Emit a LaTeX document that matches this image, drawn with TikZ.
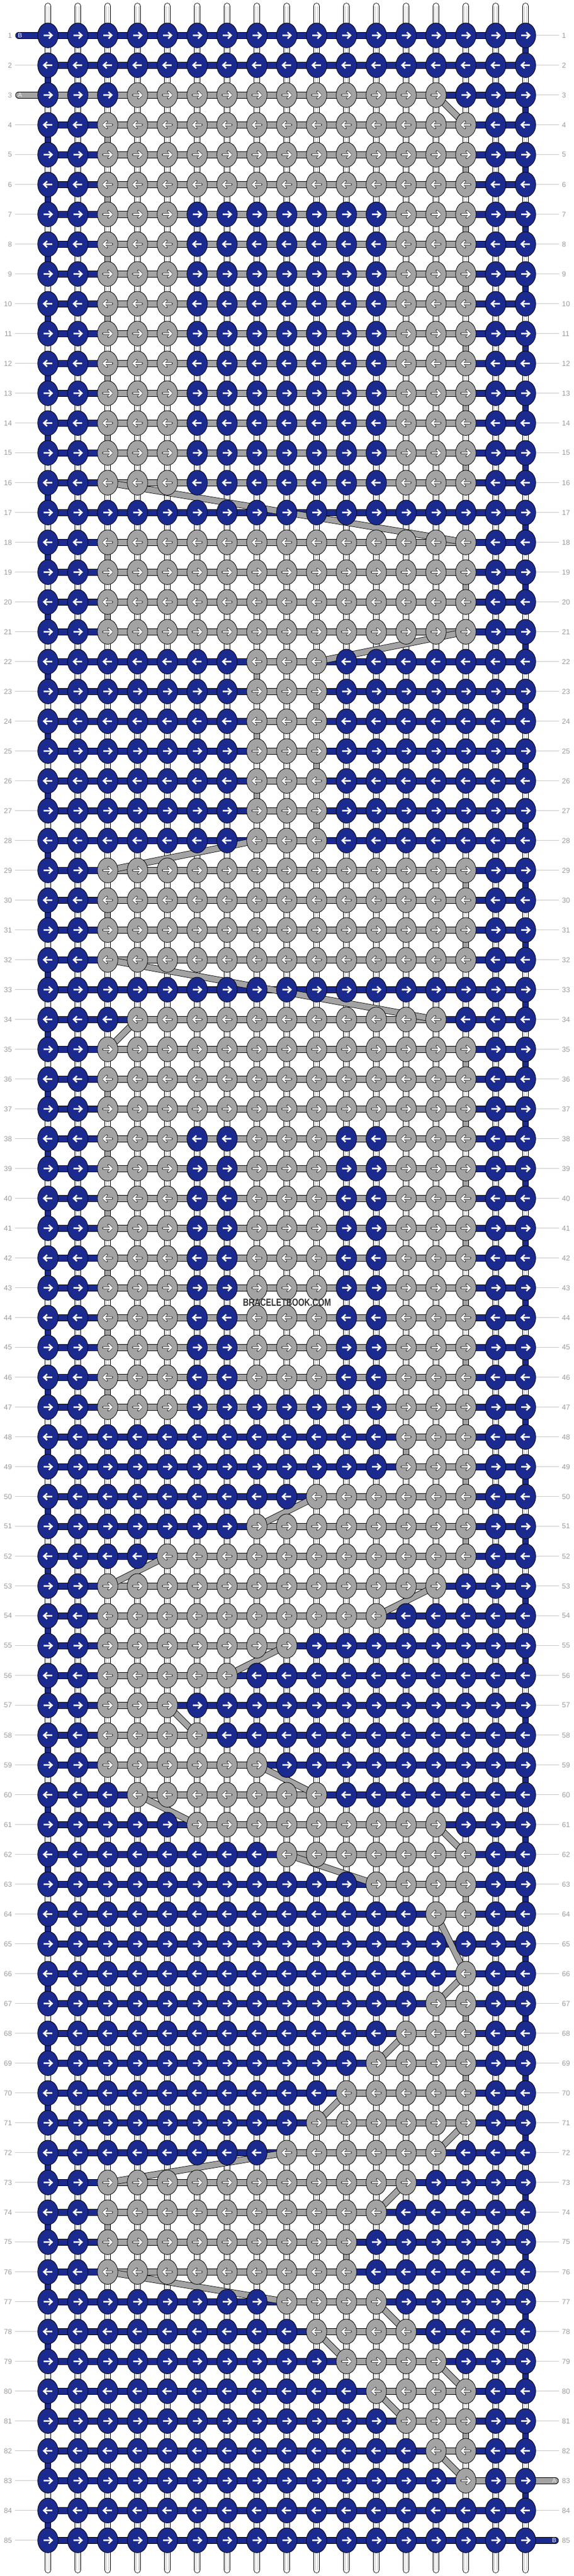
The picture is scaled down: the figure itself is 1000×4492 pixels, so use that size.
\documentclass[tikz,border=0pt]{standalone}
\usepackage{fontspec}
\setmainfont{Liberation Sans}
\usepackage{graphicx}
\usetikzlibrary{shapes.geometric}
\definecolor{bb}{RGB}{27,42,143}
\definecolor{gg}{RGB}{163,163,163}
\definecolor{labc}{RGB}{155,155,155}
\definecolor{labl}{RGB}{200,200,200}
\tikzset{
 stick/.style={draw=black,line width=0.8pt,double=white,double distance=9.4pt,line cap=round},
 stickin/.style={draw=black!22,line width=0.6pt},
 bbar/.style={draw=black,line width=0.8pt,double=bb,double distance=10.4pt,line cap=round},
 bvert/.style={draw=black,line width=0.8pt,double=bb,double distance=9.4pt,line cap=round},
 abar/.style={draw=black,line width=0.8pt,double=gg,double distance=10.4pt,line cap=round},
 aband/.style={draw=black,line width=0.8pt,double=gg,double distance=9.8pt,line cap=round},
 knot/.style={ellipse,minimum width=35.6pt,minimum height=43.4pt,inner sep=0pt,draw=black,line width=0.8pt},
 rowlab/.style={text=labc,font=\fontsize{12.5}{14}\selectfont,inner sep=0pt},
 rowline/.style={draw=labl,line width=0.9pt},
 taillab/.style={font=\fontsize{10.8}{12}\selectfont,inner sep=0pt},
 barr/.pic={\draw[white,line width=2.6pt,line join=miter] (-7.5,0) -- (6.5,0) (1.5,-5.5) -- (7.2,0) -- (1.5,5.5);},
 garr/.pic={\draw[black!70,line width=4.2pt,line cap=round,line join=round] (-7.5,0) -- (6.5,0) (1.5,-5.5) -- (7.2,0) -- (1.5,5.5);
            \draw[white,line width=2.4pt,line join=miter] (-7.5,0) -- (6.5,0) (1.5,-5.5) -- (7.2,0) -- (1.5,5.5);}
}
\newcommand\drawknot[3]{%
  \ifnum#3=1\relax
    \node[knot,fill=gg] (k-#1-#2) at (p-#1-#2) {};
    \ifodd#1\relax \pic at (p-#1-#2) {garr};\else \pic[xscale=-1] at (p-#1-#2) {garr};\fi
  \else
    \node[knot,fill=bb] (k-#1-#2) at (p-#1-#2) {};
    \ifodd#1\relax \pic at (p-#1-#2) {barr};\else \pic[xscale=-1] at (p-#1-#2) {barr};\fi
  \fi}
\def\rowlist{%
1/0/0/0/0/0/0,2/0/0/0/0/0/0,3/4/14/0/0/0/0,4/3/15/0/0/0/0,5/3/15/0/0/0/0,6/3/15/0/0/0/0,%
7/3/5/13/15/0/0,8/3/5/13/15/0/0,9/3/5/13/15/0/0,10/3/5/13/15/0/0,11/3/5/13/15/0/0,%
12/3/5/13/15/0/0,13/3/5/13/15/0/0,14/3/5/13/15/0/0,15/3/5/13/15/0/0,16/3/5/13/15/0/0,%
17/0/0/0/0/0/0,18/3/15/0/0/0/0,19/3/15/0/0/0/0,20/3/15/0/0/0/0,21/3/15/0/0/0/0,%
22/8/10/0/0/0/0,23/8/10/0/0/0/0,24/8/10/0/0/0/0,25/8/10/0/0/0/0,26/8/10/0/0/0/0,27/8/10/0/0/0/0,28/8/10/0/0/0/0,%
29/3/15/0/0/0/0,30/3/15/0/0/0/0,31/3/15/0/0/0/0,32/3/15/0/0/0/0,33/0/0/0/0/0/0,34/4/14/0/0/0/0,%
35/3/15/0/0/0/0,36/3/15/0/0/0/0,37/3/15/0/0/0/0,%
38/3/5/8/10/13/15,39/3/5/8/10/13/15,40/3/5/8/10/13/15,41/3/5/8/10/13/15,42/3/5/8/10/13/15,%
43/3/5/8/10/13/15,44/3/5/8/10/13/15,45/3/5/8/10/13/15,46/3/5/8/10/13/15,47/3/5/13/15/0/0,%
48/13/15/0/0/0/0,49/13/15/0/0/0/0,50/10/15/0/0/0/0,51/8/15/0/0/0/0,52/5/15/0/0/0/0,53/3/14/0/0/0/0,%
54/3/12/0/0/0/0,55/3/9/0/0/0/0,56/3/7/0/0/0/0,57/3/5/0/0/0/0,58/3/6/0/0/0/0,59/3/8/0/0/0/0,%
60/4/10/0/0/0/0,61/6/14/0/0/0/0,62/9/15/0/0/0/0,63/12/15/0/0/0/0,64/14/15/0/0/0/0,65/0/0/0/0/0/0,%
66/15/15/0/0/0/0,67/14/15/0/0/0/0,68/13/15/0/0/0/0,69/12/15/0/0/0/0,70/11/15/0/0/0/0,71/10/15/0/0/0/0,%
72/9/14/0/0/0/0,73/3/13/0/0/0/0,74/3/12/0/0/0/0,75/3/11/0/0/0/0,76/3/11/0/0/0/0,77/9/12/0/0/0/0,%
78/10/13/0/0/0/0,79/11/14/0/0/0/0,80/12/15/0/0/0/0,81/13/15/0/0/0/0,82/14/15/0/0/0/0,83/15/15/0/0/0/0,%
84/0/0/0/0/0/0,85/0/0/0/0/0/0}
\def\alist{%
3/14/4/15,4/3/5/3,5/15/6/15,6/3/7/3,7/15/8/15,8/3/9/3,9/15/10/15,10/3/11/3,11/15/12/15,12/3/13/3,%
13/15/14/15,14/3/15/3,15/15/16/15,16/3/18/15,18/3/19/3,19/15/20/15,20/3/21/3,21/15/22/10,%
22/8/23/8,23/10/24/10,24/8/25/8,25/10/26/10,26/8/27/8,27/10/28/10,28/8/29/3,29/15/30/15,%
30/3/31/3,31/15/32/15,32/3/34/14,34/4/35/3,35/15/36/15,36/3/37/3,37/15/38/15,38/3/39/3,%
39/15/40/15,40/3/41/3,41/15/42/15,42/3/43/3,43/15/44/15,44/3/45/3,45/15/46/15,46/3/47/3,%
47/15/48/15,48/13/49/13,49/15/50/15,50/10/51/8,51/15/52/15,52/5/53/3,53/14/54/12,54/3/55/3,%
55/9/56/7,56/3/57/3,57/5/58/6,58/3/59/3,59/8/60/10,60/4/61/6,61/14/62/15,62/9/63/12,%
63/15/64/15,64/14/66/15,66/15/67/14,67/15/68/15,68/13/69/12,69/15/70/15,70/11/71/10,%
71/15/72/14,72/9/73/3,73/13/74/12,74/3/75/3,75/11/76/11,76/3/77/9,77/12/78/13,78/10/79/11,%
79/14/80/15,80/12/81/13,81/15/82/15,82/14/83/15}
\begin{document}
\begin{tikzpicture}[x=1pt,y=-1pt]
\useasboundingbox (0,0) rectangle (1000,4492);
\fill[white] (0,0) rectangle (1000,4492);
% knot positions
\foreach \r in {1,...,85}{\foreach \c in {1,...,17}{\coordinate (p-\r-\c) at ({31.5+52*\c},{9.7+52*\r});}}
% white base strings
\foreach \c in {1,...,17}{
  \coordinate (st-\c) at ({31.5+52*\c},10.5);
  \coordinate (sb-\c) at ({31.5+52*\c},4481.5);
  \draw[stick] (st-\c) -- (sb-\c);
  \draw[stickin] ([xshift=-2.2pt]st-\c) -- ([xshift=-2.2pt]sb-\c);
  \draw[stickin] ([xshift=2.2pt]st-\c) -- ([xshift=2.2pt]sb-\c);
}
% tail end points
\coordinate (tB1) at (32.7,61.7);
\coordinate (tA3) at (32.7,165.7);
\coordinate (tA83) at (967.3,4325.7);
\coordinate (tB85) at (967.3,4429.7);
% B thread: rows
\draw[bbar] (tB1) -- (p-1-17);
\foreach \r in {2,...,84}{\draw[bbar] (p-\r-1) -- (p-\r-17);}
\draw[bbar] (p-85-1) -- (tB85);
% B thread: turns at the edges
\foreach \r [evaluate=\r as \rn using int(\r+1)] in {1,3,...,83}{\draw[bvert] (p-\r-17) -- (p-\rn-17);}
\foreach \r [evaluate=\r as \rn using int(\r+1)] in {2,4,...,84}{\draw[bvert] (p-\r-1) -- (p-\rn-1);}
% A thread: rows
\foreach \r/\pa/\pb/\pc/\pd/\pe/\pf in \rowlist{
  \ifnum\pa>0\relax
    \pgfmathtruncatemacro\hb{max(\pb,\pd,\pf)}
    \ifnum\pa<\hb\relax \draw[abar] (p-\r-\pa) -- (p-\r-\hb);\fi
  \fi}
\draw[abar] (tA3) -- (p-3-14);
\draw[abar] (p-83-15) -- (tA83);
% A thread: moves between rows
\foreach \ra/\ca/\rb/\cb in \alist{\draw[aband] (p-\ra-\ca) -- (p-\rb-\cb);}
% knots
\foreach \r/\pa/\pb/\pc/\pd/\pe/\pf in \rowlist{
  \foreach \c in {1,...,17}{
    \def\kg{0}%
    \ifnum\c<\pa\relax\else\ifnum\c>\pb\relax\else\def\kg{1}\fi\fi
    \ifnum\c<\pc\relax\else\ifnum\c>\pd\relax\else\def\kg{1}\fi\fi
    \ifnum\c<\pe\relax\else\ifnum\c>\pf\relax\else\def\kg{1}\fi\fi
    \drawknot{\r}{\c}{\kg}
  }}
% tail letters
\node[taillab,text=white] (lB1) at (35,62) {B};
\node[taillab,text=white!92!black] (lA3) at (35,166) {A};
\node[taillab,text=white!92!black] (lA83) at (965.5,4326) {A};
\node[taillab,text=white] (lB85) at (965.5,4430) {B};
% row numbers and guide lines
\foreach \r in {1,...,85}{
  \node[rowlab,anchor=east] (ll-\r) at ({21},{9.7+52*\r}) {\r};
  \node[rowlab,anchor=west] (lr-\r) at ({979},{9.7+52*\r}) {\r};
}
\foreach \r in {2,4,5,...,85}{\draw[rowline] ([xshift=5pt]ll-\r.east) -- (k-\r-1.west);}
\foreach \r in {1,...,82,84}{\draw[rowline] (k-\r-17.east) -- ([xshift=-5pt]lr-\r.west);}
% watermark
\node[text=black!80,font=\bfseries\fontsize{18}{20}\selectfont,inner sep=0pt] (wm) at (500,2271) {\scalebox{0.77}[1]{BRACELETBOOK.COM}};
\end{tikzpicture}
\end{document}
